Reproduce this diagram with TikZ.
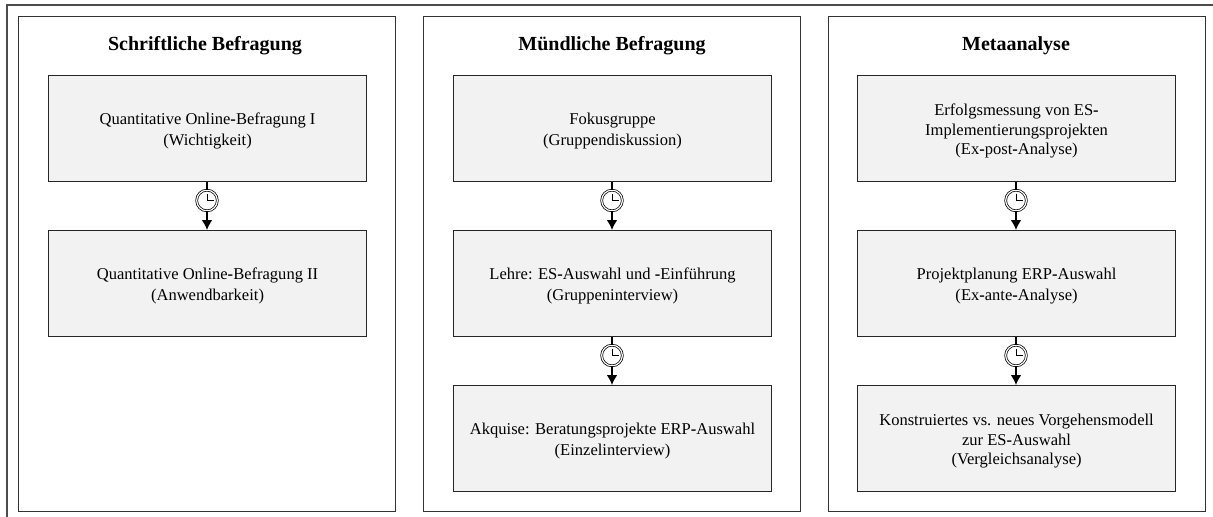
\documentclass[tikz,border=0pt]{standalone}
\usepackage{fontspec}
\setmainfont{Liberation Serif}
\usetikzlibrary{arrows.meta}
\newcommand{\hy}{\textbf{-}}
\newcommand{\lift}{\rule{0pt}{12.8pt}}
\tikzset{
  x=0.75pt,y=-0.75pt,
  panel/.style={draw=black!80,line width=0.8pt,fill=white,minimum width=282.75pt,minimum height=371.25pt,inner sep=0pt,anchor=north west},
  stage/.style={draw=black!85,line width=0.8pt,fill=black!5,minimum width=238.5pt,minimum height=79.5pt,inner sep=0pt,align=center,font=\fontsize{12.4}{15.8}\selectfont,anchor=north west},
  stagethree/.style={stage,font=\fontsize{12.4}{14.6}\selectfont},
  heading/.style={font=\bfseries\fontsize{15}{18}\selectfont,inner sep=0pt},
  clockface/.style={circle,draw=black,line width=0.55pt,fill=white,double=white,double distance=0.9pt,minimum size=15.5pt,inner sep=0pt},
  hand/.style={draw=black,line width=0.5pt},
  link/.style={draw=black,line width=1pt},
  linkarrow/.style={draw=black,line width=1pt,-{Latex[length=7.5pt,width=8pt]}}
}
\begin{document}
\begin{tikzpicture}
\useasboundingbox (0,0) rectangle (1213,517);
\fill[white] (0,0) rectangle (1213,517);
\draw[black!70,line width=0.9pt] (1213,5) -- (7,5) -- (7,517);

\node[panel] (p1) at (18,16) {};
\node[panel] (p2) at (423,16) {};
\node[panel] (p3) at (828,16) {};

\node[heading] (h1) at (205,46) {Schriftliche Befragung};
\node[heading] (h2) at (612,46) {Mündliche Befragung};
\node[heading] (h3) at (1016,46) {Metaanalyse};

\node[stage] (a1) at (48,75) {\lift Quantitative Online\hy Befragung I\\(Wichtigkeit)};
\node[stage] (a2) at (48,230) {\lift Quantitative Online\hy Befragung II\\(Anwendbarkeit)};

\node[stage] (b1) at (453,75) {\lift Fokusgruppe\\(Gruppendiskussion)};
\node[stage] (b2) at (453,230) {\lift Lehre: ES\hy Auswahl und \hy Einführung\\(Gruppeninterview)};
\node[stage] (b3) at (453,385) {\lift Akquise: Beratungsprojekte ERP\hy Auswahl\\(Einzelinterview)};

\node[stagethree] (c1) at (857,75) {\lift Erfolgsmessung von ES\hy\\Implementierungsprojekten\\(Ex\hy post\hy Analyse)};
\node[stage] (c2) at (857,230) {\lift Projektplanung ERP\hy Auswahl\\(Ex\hy ante\hy Analyse)};
\node[stagethree] (c3) at (857,385) {\lift Konstruiertes vs. neues Vorgehensmodell\\zur ES\hy Auswahl\\(Vergleichsanalyse)};

\foreach \up/\lo/\cx/\cy/\n in {a1/a2/207/200.5/k1,b1/b2/612/200.5/k2,b2/b3/612/355.5/k3,c1/c2/1016/200.5/k4,c2/c3/1016/355.5/k5}{
  \node[clockface] (\n) at (\cx,\cy) {};
  \draw[link] (\up.south -| \n) -- (\n);
  \draw[linkarrow] (\n) -- (\lo.north -| \n);
  \draw[hand] (\n.center) ++(0,-7) -- (\n.center) -- ++(6.5,0);
}
\end{tikzpicture}
\end{document}
